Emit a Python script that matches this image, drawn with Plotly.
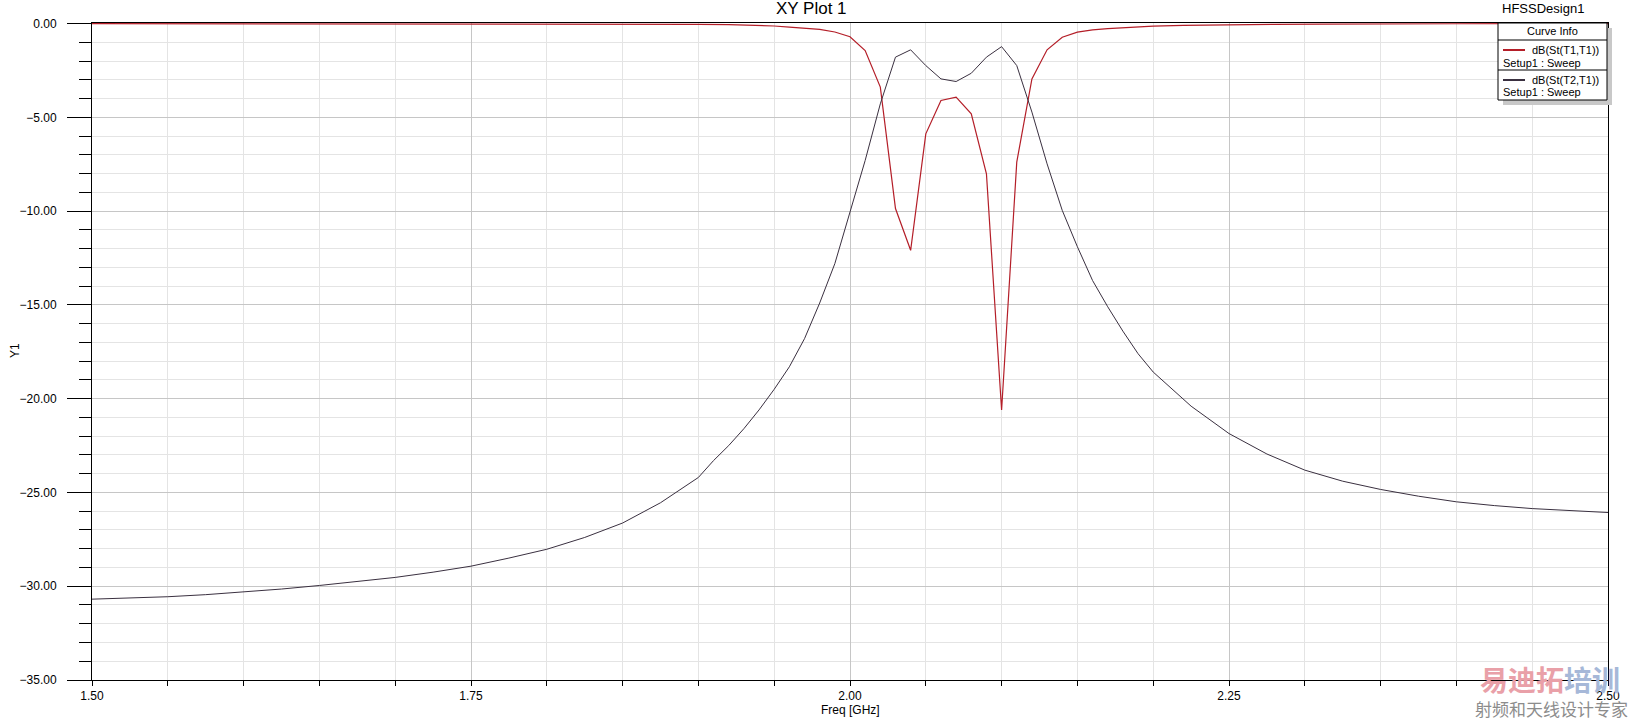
import plotly.graph_objects as go

# ---------------- data ----------------
freq_s11 = [1.50, 1.60, 1.70, 1.80, 1.85, 1.87, 1.90, 1.92, 1.94, 1.95, 1.96, 1.97,
            1.98, 1.99, 2.00, 2.01, 2.02, 2.03, 2.04, 2.05, 2.06, 2.07, 2.08, 2.09,
            2.10, 2.11, 2.12, 2.13, 2.14, 2.15, 2.16, 2.17, 2.18, 2.19, 2.20, 2.22,
            2.25, 2.28, 2.31, 2.34, 2.40, 2.50]
s11_db = [-0.005, -0.006, -0.008, -0.012, -0.018, -0.03, -0.04, -0.055, -0.08, -0.13,
          -0.19, -0.25, -0.31, -0.45, -0.70, -1.44, -3.39, -9.86, -12.09, -5.88, -4.10,
          -3.92, -4.81, -8.01, -20.6, -7.39, -2.95, -1.40, -0.73, -0.46, -0.34, -0.27,
          -0.22, -0.18, -0.14, -0.10, -0.06, -0.045, -0.03, -0.015, -0.01, -0.005]

freq_s21 = [1.50, 1.525, 1.55, 1.575, 1.60, 1.625, 1.65, 1.675, 1.70, 1.725, 1.75,
            1.775, 1.80, 1.825, 1.85, 1.875, 1.90, 1.91, 1.92, 1.93, 1.94, 1.95,
            1.96, 1.97, 1.98, 1.99, 2.00, 2.01, 2.02, 2.03, 2.04, 2.05, 2.06, 2.07,
            2.08, 2.09, 2.10, 2.11, 2.12, 2.13, 2.14, 2.15, 2.16, 2.17, 2.18, 2.19,
            2.20, 2.225, 2.25, 2.275, 2.30, 2.325, 2.35, 2.375, 2.40, 2.425, 2.45,
            2.475, 2.50]
s21_db = [-30.69, -30.63, -30.56, -30.45, -30.31, -30.15, -29.96, -29.76, -29.53,
          -29.25, -28.93, -28.50, -28.03, -27.40, -26.63, -25.55, -24.20, -23.30,
          -22.50, -21.60, -20.60, -19.50, -18.30, -16.80, -14.90, -12.80, -10.00,
          -7.30, -4.28, -1.79, -1.40, -2.24, -2.95, -3.09, -2.65, -1.79, -1.23,
          -2.24, -4.72, -7.48, -9.96, -11.90, -13.70, -15.10, -16.40, -17.60,
          -18.58, -20.40, -21.86, -22.95, -23.81, -24.40, -24.84, -25.20, -25.50,
          -25.70, -25.86, -25.97, -26.07]

curve_names = ["dB(St(T1,T1))", "dB(St(T2,T1))"]
setup_label = "Setup1 : Sweep"

# ---------------- layout geometry (pixels) ----------------
W, H = 1634, 721
L, R, T, B = 92, 1608, 23, 680
FONT = "Arial, Liberation Sans, sans-serif"
RED = "#b41e28"
DARK = "#3a3040"


def px(x):
    return (x - L) / (R - L)


def py(y):
    return (B - y) / (B - T)


fig = go.Figure()
fig.add_trace(go.Scatter(x=freq_s11, y=s11_db, mode="lines", name=curve_names[0],
                         line=dict(color=RED, width=1.2), showlegend=False))
fig.add_trace(go.Scatter(x=freq_s21, y=s21_db, mode="lines", name=curve_names[1],
                         line=dict(color=DARK, width=1), showlegend=False))

fig.update_layout(
    width=W, height=H,
    margin=dict(l=L, r=W - R, t=T, b=H - B, autoexpand=False),
    paper_bgcolor="white", plot_bgcolor="white",
    font=dict(family=FONT, size=12, color="black"),
    showlegend=False,
)

fig.update_xaxes(
    range=[1.5, 2.5], tick0=1.5, dtick=0.25, tickformat=".2f",
    ticks="outside", ticklen=5, tickcolor="black", tickwidth=1,
    showgrid=True, gridcolor="#c6c6c6", gridwidth=1,
    minor=dict(tick0=1.5, dtick=0.05, ticks="outside", ticklen=5, tickcolor="black",
               showgrid=True, gridcolor="#e4e4e4", gridwidth=1),
    showline=True, linecolor="black", linewidth=1, mirror=True,
    zeroline=False, layer="below traces", tickfont=dict(size=12, color="black"),
)
fig.update_yaxes(
    range=[-35, 0.03], tick0=0, dtick=5, tickformat=".2f",
    ticks="outside", ticklen=24, tickcolor="black", tickwidth=1,
    showgrid=True, gridcolor="#c6c6c6", gridwidth=1,
    minor=dict(tick0=0, dtick=1, ticks="outside", ticklen=12, tickcolor="black",
               showgrid=True, gridcolor="#e4e4e4", gridwidth=1),
    showline=True, linecolor="black", linewidth=1, mirror=True,
    zeroline=False, layer="below traces", tickfont=dict(size=12, color="black"),
    ticklabelstandoff=8,
)

shapes = []
annotations = []

# legend box ("Curve Info")
bx0, bx1, by0, by1 = 1498, 1607, 23, 100
shapes.append(dict(type="rect", xref="paper", yref="paper",
                   x0=px(bx0 + 5), x1=px(bx1 + 5), y0=py(by0 + 5), y1=py(by1 + 5),
                   fillcolor="#c8c8c8", line=dict(width=0), layer="above"))
shapes.append(dict(type="rect", xref="paper", yref="paper",
                   x0=px(bx0), x1=px(bx1), y0=py(by0), y1=py(by1),
                   fillcolor="white", line=dict(color="black", width=1), layer="above"))
for ysep in (40, 70):
    shapes.append(dict(type="line", xref="paper", yref="paper",
                       x0=px(bx0), x1=px(bx1), y0=py(ysep), y1=py(ysep),
                       line=dict(color="black", width=1), layer="above"))
for yl, col in ((50, RED), (80, DARK)):
    shapes.append(dict(type="line", xref="paper", yref="paper",
                       x0=px(1503), x1=px(1525), y0=py(yl), y1=py(yl),
                       line=dict(color=col, width=2), layer="above"))


def text(s, x, y, size=12, xanchor="center", yanchor="middle", color="black",
         textangle=0, family=FONT):
    annotations.append(dict(text=s, x=px(x), y=py(y), xref="paper", yref="paper",
                            showarrow=False, xanchor=xanchor, yanchor=yanchor,
                            font=dict(size=size, color=color, family=family),
                            textangle=textangle))


text("Curve Info", 1552, 31, size=11)
text(curve_names[0], 1530, 50, size=11, xanchor="left")
text(setup_label, 1501, 63, size=11, xanchor="left")
text(curve_names[1], 1530, 80, size=11, xanchor="left")
text(setup_label, 1501, 92, size=11, xanchor="left")

# titles
text("XY Plot 1", 811, 9, size=17)
text("HFSSDesign1", 1500, 8.5, size=13, xanchor="left")
text("Freq [GHz]", 850, 710, size=12)
text("Y1", 15, 351, size=12, textangle=-90)

# watermark
CJK = "Noto Sans CJK SC"
text("<b>易迪拓</b>", 1522, 679, size=28, color="#e9a0a8", family=CJK)
text("<b>培训</b>", 1592, 679, size=28, color="#a6b8d8", family=CJK)
text("射频和天线设计专家", 1551, 708, size=17, color="#8c8c8c", family=CJK)

fig.update_layout(shapes=shapes, annotations=annotations)
fig.write_html(
    "out.html",
    config={"displayModeBar": False},
    post_script="document.body.style.margin='0';document.body.style.overflow='hidden';",
)
